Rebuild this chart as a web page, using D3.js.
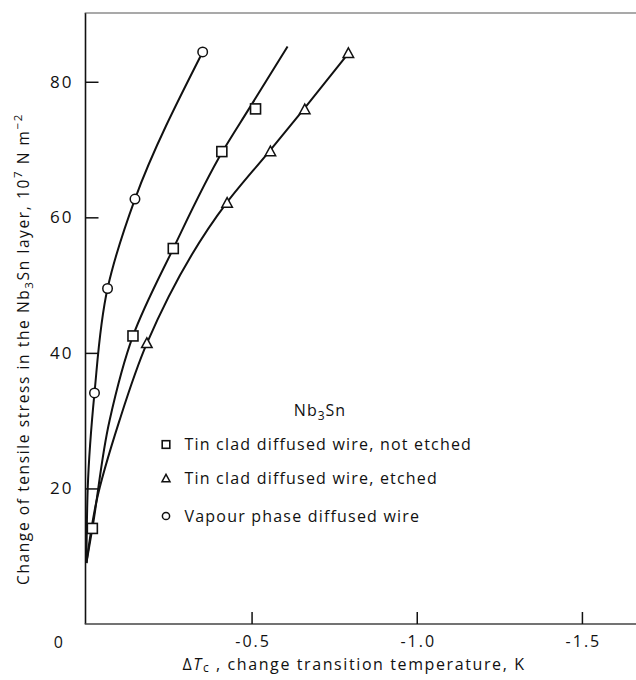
<!DOCTYPE html>
<html><head><meta charset="utf-8">
<script src="https://cdn.jsdelivr.net/npm/d3@7"></script>
<style>body{margin:0;background:#fff}svg{display:block}text{font-family:"Open Sans",sans-serif;fill:#111}</style></head>
<body><svg id="c" width="636" height="680"></svg>
<script>
// ---- data ----
const xTicks = [-0.5, -1.0, -1.5];
const xTickLabels = ["-0.5", "-1.0", "-1.5"];
const yTicks = [20, 40, 60, 80];
const yTickLabels = ["20", "40", "60", "80"];
const originLabel = "0";
const seriesNames = ["Tin clad diffused wire, not etched", "Tin clad diffused wire, etched", "Vapour phase diffused wire"];
const seriesSymbols = ["square", "triangle", "circle"];
// measured points
const notEtchedX = [-0.018, -0.141, -0.263, -0.41, -0.512];
const notEtchedY = [14.1, 42.5, 55.4, 69.7, 76.0];
const etchedX = [-0.183, -0.426, -0.557, -0.661, -0.793];
const etchedY = [41.4, 62.1, 69.7, 75.9, 84.2];
const vapourX = [-0.0245, -0.064, -0.147, -0.352];
const vapourY = [34.1, 49.5, 62.7, 84.4];
// fitted curves
const notEtchedCurveX = [0, -0.018, -0.07, -0.141, -0.263, -0.412, -0.492, -0.609];
const notEtchedCurveY = [9, 14.1, 30, 42.5, 55.4, 69.7, 76.0, 85.2];
const etchedCurveX = [0, -0.03, -0.10, -0.183, -0.424, -0.553, -0.657, -0.793];
const etchedCurveY = [9, 18, 30, 41.4, 62.1, 69.7, 75.9, 84.2];
const vapourCurveX = [0, -0.004, -0.0245, -0.064, -0.147, -0.352];
const vapourCurveY = [9, 20, 34.1, 49.5, 62.7, 84.4];

// ---- chart ----
const svg = d3.select("#c");
const x = d3.scaleLinear().domain([0, -1.6637]).range([86.4, 636]);
const y = d3.scaleLinear().domain([0, 90]).range([624, 14]);
const ink = "#111";

// frame lines
svg.append("line").attr("x1", x(0) - 0.9).attr("x2", x(0) - 0.9).attr("y1", y(0)).attr("y2", 13)
  .attr("stroke", ink).attr("stroke-width", 1.6);
svg.append("line").attr("x1", x(0) - 1.7).attr("x2", 636).attr("y1", 13).attr("y2", 13)
  .attr("stroke", "#555").attr("stroke-width", 1.2);
svg.append("line").attr("x1", x(0) - 1.7).attr("x2", 636).attr("y1", y(0)).attr("y2", y(0))
  .attr("stroke", "#444").attr("stroke-width", 1.4);

// x axis
const xAxis = d3.axisBottom(x).tickValues(xTicks).tickSize(-12).tickPadding(12)
  .tickFormat((d, i) => xTickLabels[i]);
const gx = svg.append("g").attr("transform", `translate(0,${y(0)})`).call(xAxis);
gx.select(".domain").remove();
gx.selectAll(".tick line").attr("stroke", ink).attr("stroke-width", 1.5);
gx.selectAll(".tick text").attr("font-size", 16).attr("fill", ink).style("letter-spacing", "2px").attr("dx", "1px");
svg.append("text").attr("x", x(0) - 28).attr("y", y(0) + 18).attr("dy", "0.35em")
  .attr("text-anchor", "middle").attr("font-size", 16).text(originLabel);

// y axis
const yAxis = d3.axisLeft(y).tickValues(yTicks).tickSize(-13).tickPadding(12)
  .tickFormat((d, i) => yTickLabels[i]);
const gy = svg.append("g").attr("transform", `translate(${x(0) - 0.9},0)`).call(yAxis);
gy.select(".domain").remove();
gy.selectAll(".tick line").attr("stroke", ink).attr("stroke-width", 1.5);
gy.selectAll(".tick text").attr("font-size", 17).attr("fill", ink).style("letter-spacing", "2px");

// curves
const line = d3.line().x(d => x(d[0])).y(d => y(d[1])).curve(d3.curveMonotoneY);
const curves = [
  d3.zip(notEtchedCurveX, notEtchedCurveY),
  d3.zip(etchedCurveX, etchedCurveY),
  d3.zip(vapourCurveX, vapourCurveY)
];
svg.append("g").selectAll("path").data(curves).join("path")
  .attr("d", line).attr("fill", "none").attr("stroke", ink).attr("stroke-width", 2);

// markers
function marker(g, kind, cx, cy, s) {
  if (kind === "square") {
    g.append("rect").attr("x", cx - s).attr("y", cy - s).attr("width", 2 * s).attr("height", 2 * s)
      .attr("fill", "#fff").attr("stroke", ink).attr("stroke-width", 1.6);
  } else if (kind === "triangle") {
    const h = s * 1.1;
    g.append("path").attr("d", `M${cx},${cy - h}L${cx + s * 1.05},${cy + h * 0.75}L${cx - s * 1.05},${cy + h * 0.75}Z`)
      .attr("fill", "#fff").attr("stroke", ink).attr("stroke-width", 1.5);
  } else {
    g.append("circle").attr("cx", cx).attr("cy", cy).attr("r", s * 0.95)
      .attr("fill", "#fff").attr("stroke", ink).attr("stroke-width", 1.5);
  }
}
const pts = [d3.zip(notEtchedX, notEtchedY), d3.zip(etchedX, etchedY), d3.zip(vapourX, vapourY)];
const gm = svg.append("g");
pts.forEach((arr, k) => arr.forEach(p => marker(gm, seriesSymbols[k], x(p[0]), y(p[1]), 5)));

// legend
const lg = svg.append("g");
const lt = lg.append("text").attr("x", 320).attr("y", 410).attr("dy", "0.35em").attr("text-anchor", "middle")
  .attr("font-size", 16).style("letter-spacing", "1px");
lt.append("tspan").text("Nb");
lt.append("tspan").attr("font-size", 12).attr("baseline-shift", "-30%").text("3");
lt.append("tspan").text("Sn");
const rows = [444.5, 478.5, 516];
seriesNames.forEach((name, i) => {
  marker(lg, seriesSymbols[i], 166, rows[i], 3.8);
  lg.append("text").attr("x", 184.5).attr("y", rows[i]).attr("dy", "0.35em").attr("font-size", 16)
    .style("letter-spacing", "1.2px").text(name);
});

// axis titles
const xt = svg.append("text").attr("x", 354).attr("y", 664).attr("dy", "0.35em").attr("text-anchor", "middle")
  .attr("font-size", 16).style("letter-spacing", "1.6px");
xt.append("tspan").text("\u0394");
xt.append("tspan").attr("font-style", "italic").text("T");
xt.append("tspan").attr("font-size", 12).attr("baseline-shift", "-20%").text("c");
xt.append("tspan").text(" ,  change  transition  temperature,  K");

const yt = svg.append("text").attr("transform", "translate(24,349) rotate(-90)").attr("dy", "0.35em")
  .attr("text-anchor", "middle").attr("font-size", 15.5).style("letter-spacing", "1.6px");
yt.append("tspan").text("Change of tensile stress in the Nb");
yt.append("tspan").attr("font-size", 11.5).attr("baseline-shift", "-30%").text("3");
yt.append("tspan").text("Sn layer, 10");
yt.append("tspan").attr("font-size", 11.5).attr("baseline-shift", "60%").text("7");
yt.append("tspan").text("  N  m");
yt.append("tspan").attr("font-size", 11.5).attr("baseline-shift", "60%").text("\u22122");
</script></body></html>
